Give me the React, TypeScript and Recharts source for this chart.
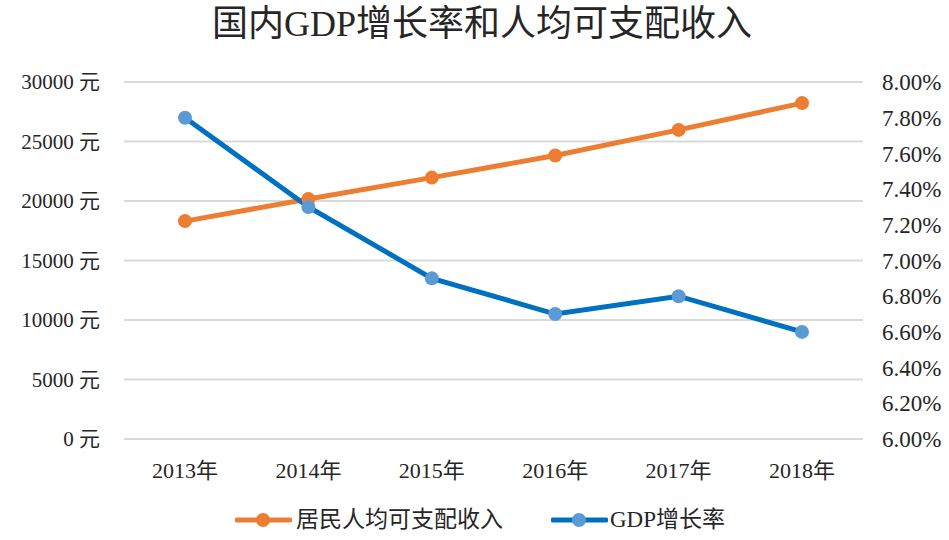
import React from 'react';
import { LineChart, Line, XAxis, YAxis, CartesianGrid, Legend } from 'recharts';

const years = ['2013年', '2014年', '2015年', '2016年', '2017年', '2018年'];
const income = [18311, 20167, 21966, 23821, 25974, 28228];
const gdpRate = [7.8, 7.3, 6.9, 6.7, 6.8, 6.6];
const incomeTicks = [0, 5000, 10000, 15000, 20000, 25000, 30000];
const rateTicks = [6.0, 6.2, 6.4, 6.6, 6.8, 7.0, 7.2, 7.4, 7.6, 7.8, 8.0];
const incomeName = '居民人均可支配收入';
const gdpName = 'GDP增长率';
const title = '国内GDP增长率和人均可支配收入';

const data = years.map((y, i) => ({ year: y, income: income[i], gdp: gdpRate[i] }));

const FONT = "'Liberation Serif', 'Noto Sans CJK SC', serif";
const TEXT = '#262626';
const ORANGE = '#ED7D31';
const BLUE_LINE = '#0070C0';
const BLUE_DOT = '#5B9BD5';

const LegendIcon = ({ line, dot }: { line: string; dot: string }) => (
  <svg width={57} height={18} style={{ display: 'block' }}>
    <line x1={2} y1={9} x2={55} y2={9} stroke={line} strokeWidth={5} strokeLinecap="round" />
    <circle cx={28} cy={9} r={7} fill={dot} />
  </svg>
);

const renderLegend = () => (
  <div style={{ position: 'relative', width: 949, height: 34, fontFamily: FONT, fontSize: 23, color: TEXT }}>
    <div style={{ position: 'absolute', left: 235, top: 4, display: 'flex', alignItems: 'center' }}>
      <LegendIcon line={ORANGE} dot={ORANGE} />
      <span style={{ marginLeft: 4, lineHeight: '26px' }}>{incomeName}</span>
    </div>
    <div style={{ position: 'absolute', left: 551, top: 4, display: 'flex', alignItems: 'center' }}>
      <LegendIcon line={BLUE_LINE} dot={BLUE_DOT} />
      <span style={{ marginLeft: 2, lineHeight: '26px' }}>{gdpName}</span>
    </div>
  </div>
);

export default function App() {
  return (
    <div style={{ position: 'absolute', left: 0, top: 0, width: 949, height: 540, background: '#fff' }}>
      <div
        style={{
          position: 'absolute',
          left: 0,
          top: 2,
          width: 964,
          textAlign: 'center',
          fontFamily: FONT,
          fontSize: 36,
          color: TEXT,
          lineHeight: '44px',
        }}
      >
        {title}
      </div>
      <LineChart
        width={949}
        height={540}
        data={data}
        margin={{ top: 82, right: 0, left: 0, bottom: 3 }}
      >
        <CartesianGrid yAxisId="left" vertical={false} stroke="#d9d9d9" strokeWidth={2} />
        <XAxis
          dataKey="year"
          axisLine={false}
          tickLine={false}
          tickSize={0}
          tickMargin={23}
          height={64}
          padding={{ left: 61, right: 61 }}
          tick={{ fontFamily: FONT, fontSize: 22, fill: TEXT }}
          interval={0}
        />
        <YAxis
          yAxisId="left"
          orientation="left"
          width={124}
          domain={[0, 30000]}
          ticks={incomeTicks}
          axisLine={false}
          tickLine={false}
          tickSize={0}
          tickMargin={24}
          tickFormatter={(v: number) => `${v} 元`}
          tick={{ fontFamily: FONT, fontSize: 21, fill: TEXT }}
          interval={0}
        />
        <YAxis
          yAxisId="right"
          orientation="right"
          width={86}
          domain={[6, 8]}
          ticks={rateTicks}
          axisLine={false}
          tickLine={false}
          tickSize={0}
          tickMargin={19}
          tickFormatter={(v: number) => `${v.toFixed(2)}%`}
          tick={{ fontFamily: FONT, fontSize: 23, fill: TEXT }}
          interval={0}
        />
        <Legend verticalAlign="bottom" height={34} content={renderLegend} />
        <Line
          yAxisId="left"
          type="linear"
          dataKey="income"
          name={incomeName}
          stroke={ORANGE}
          strokeWidth={5}
          dot={{ r: 7, fill: ORANGE, stroke: ORANGE, strokeWidth: 0 }}
          isAnimationActive={false}
        />
        <Line
          yAxisId="right"
          type="linear"
          dataKey="gdp"
          name={gdpName}
          stroke={BLUE_LINE}
          strokeWidth={5}
          dot={{ r: 7, fill: BLUE_DOT, stroke: BLUE_DOT, strokeWidth: 0 }}
          isAnimationActive={false}
        />
      </LineChart>
    </div>
  );
}
